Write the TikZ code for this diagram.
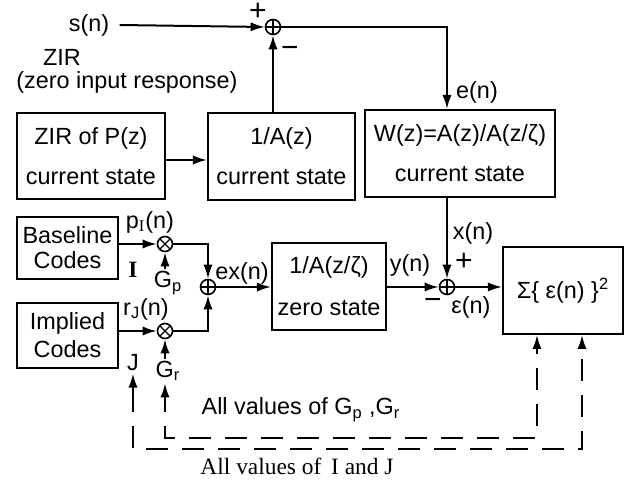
\documentclass[tikz,border=0pt]{standalone}
\usepackage{fontspec}
\setmainfont{Liberation Sans}
\newfontfamily\tmsfont{Liberation Serif}
\usetikzlibrary{arrows.meta,calc}
\begin{document}
\begin{tikzpicture}[x=0.5pt,y=-0.5pt,
  every node/.style={font=\fontsize{11.7}{14}\selectfont},
  blk/.style={draw, line width=1pt, inner sep=0pt, align=center},
  arr/.style={line width=1pt, -{Latex[length=7pt,width=4.6pt]}},
  dsh/.style={line width=1pt, dash pattern=on 11pt off 7pt, dash phase=11pt, -{Latex[length=7pt,width=4.6pt]}},
  sumj/.style={circle, draw, line width=0.8pt, minimum size=7.5pt, inner sep=0pt,
    path picture={\draw[line width=0.6pt] (path picture bounding box.north) -- (path picture bounding box.south)
      (path picture bounding box.west) -- (path picture bounding box.east);}},
  mulj/.style={circle, draw, line width=0.8pt, minimum size=7.5pt, inner sep=0pt,
    path picture={\draw[line width=0.6pt] (path picture bounding box.north west) -- (path picture bounding box.south east)
      (path picture bounding box.south west) -- (path picture bounding box.north east);}},
  lbl/.style={inner sep=1pt},
  sgn/.style={inner sep=1pt, font=\fontsize{15}{16}\selectfont}]
\useasboundingbox (0,0) rectangle (629,482);

% blocks
\node[blk, minimum width=74pt, minimum height=43pt, font=\fontsize{11.7}{20}\selectfont] (zir) at (91,156) {ZIR of P(z)\\current state};
\node[blk, minimum width=73.5pt, minimum height=43.5pt, font=\fontsize{11.7}{20}\selectfont] (inv) at (281.5,156.5) {1/A(z)\\current state};
\node[blk, minimum width=95pt, minimum height=43.5pt, font=\fontsize{11.7}{20}\selectfont] (wbox) at (460,153.5) {W(z)=A(z)/A(z/ζ)\\current state};
\node[blk, minimum width=50.5pt, minimum height=31pt, font=\fontsize{11.7}{12.5}\selectfont] (base) at (67.5,248) {Baseline\\Codes};
\node[blk, minimum width=50.5pt, minimum height=32.5pt, font=\fontsize{11.7}{14}\selectfont] (impl) at (67.5,335.5) {Implied\\Codes};
\node[blk, minimum width=57pt, minimum height=43.5pt, font=\fontsize{11.7}{21}\selectfont] (zs) at (329,286.5) {1/A(z/ζ)\\zero state};
\node[blk, minimum width=60pt, minimum height=43.5pt] (sum) at (563,290.5) {Σ\{ ε(n) \}\textsuperscript{2}};

% junctions
\node[sumj] (j1) at (273,27) {};
\node[sumj] (j2) at (447,287) {};
\node[sumj] (j3) at (208,287) {};
\node[mulj] (m1) at (165,244) {};
\node[mulj] (m2) at (165,331) {};

% labels
\node[lbl, inner xsep=5pt] (sn) at (89,25) {s(n)};
\node[sgn] (pl1) at (258,12) {+};
\node[sgn] (mi1) at (290,52) {−};
\node[lbl] (zirl) at (62,57) {ZIR};
\node[lbl] (zirt) at (127,82) {(zero input response)};
\node[lbl] (en) at (477,92) {e(n)};
\node[lbl] (xn) at (473,233) {x(n)};
\node[sgn] (pl2) at (464,262) {+};
\node[sgn] (mi2) at (433,304) {−};
\node[lbl] (epn) at (471,307) {ε(n)};
\node[lbl] (yn) at (410,265) {y(n)};
\node[lbl] (exn) at (242,273) {ex(n)};
\node[lbl] (pin) at (150,222) {p\textsubscript{\tmsfont I}(n)};
\node[lbl] (il) at (133,270) {\tmsfont\bfseries I};
\node[lbl] (gp) at (168,283) {G\textsubscript{p}};
\node[lbl] (rjn) at (146,309) {r\textsubscript{J}(n)};
\node[lbl] (jl) at (133,363) {J};
\node[lbl] (gr) at (168,371) {G\textsubscript{r}};
\node[lbl] (allg) at (301,410) {All values of G\textsubscript{p} ,G\textsubscript{r}};
\node[lbl, font=\tmsfont\fontsize{11.7}{14}\selectfont] (allij) at (297,466) {All values of\, I and J};

% coordinates for free ends
\coordinate (jfoot) at (133,412);
\coordinate (grfoot) at (165,412);
\coordinate (c1) at (537,438);
\coordinate (c2) at (582,449);

% connectors
\draw[arr] (sn.east) -- (j1.west);
\draw[arr] (j1.east) -| (wbox.north -| j2);
\draw[arr] (zir.east |- 0,160) -- (inv.west |- 0,160);
\draw[arr] (inv.north -| j1) -- (j1.south);
\draw[arr] (wbox.south -| j2) -- (j2.north);
\draw[arr] (zs.east |- j2) -- (j2.west);
\draw[arr] (j2.east) -- (sum.west |- j2);
\draw[arr] (base.east |- m1) -- (m1.west);
\draw[arr] (impl.east |- m2) -- (m2.west);
\draw[arr] (m1.east) -| (j3.north);
\draw[arr] (m2.east) -| (j3.south);
\draw[arr] (j3.east) -- (zs.west |- j3);
\draw[arr] (gp.north -| m1) -- (m1.south);
\draw[arr] (gr.north -| m2) -- (m2.south);
\draw[arr] (jfoot) -- (jl.south);
\draw[arr] (grfoot) -- (gr.south -| grfoot);

% dashed feedback
\draw[dsh] (grfoot) |- (c1) -- (sum.south -| c1);
\draw[dsh] (jfoot) |- (c2) -- (sum.south -| c2);
\end{tikzpicture}
\end{document}
